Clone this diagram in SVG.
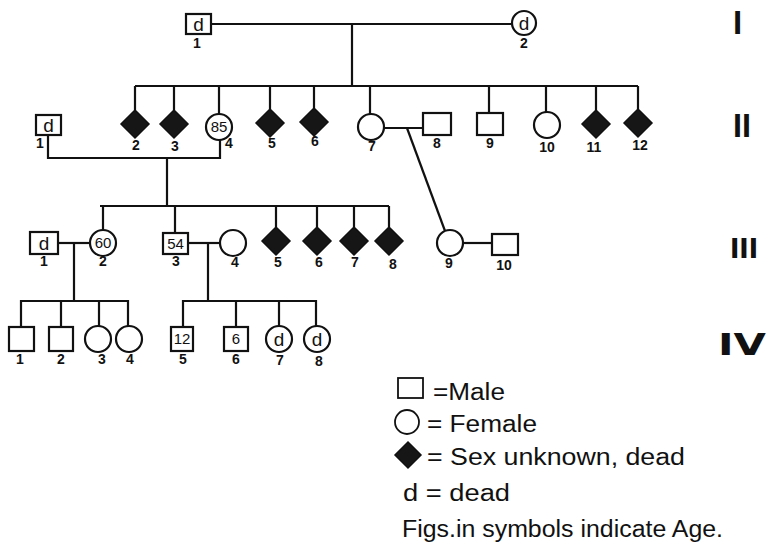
<svg xmlns="http://www.w3.org/2000/svg" width="770" height="546" viewBox="0 0 770 546">
<style>
.sym{fill:#fff;stroke:#111;stroke-width:2.2}
.dia{fill:#161616;stroke:#111;stroke-width:1.5}
.ln{fill:none;stroke:#111;stroke-width:2.2}
.num{font-family:"Liberation Sans",Arial,sans-serif;font-weight:bold;font-size:14px;fill:#111;text-anchor:middle}
.in{font-family:"Liberation Sans",Arial,sans-serif;font-size:19px;fill:#111;text-anchor:middle}
.age{font-family:"Liberation Sans",Arial,sans-serif;font-size:15px;fill:#111;text-anchor:middle}
.gen{font-family:"Liberation Sans",Arial,sans-serif;font-weight:bold;fill:#111}
.leg{font-family:"Liberation Sans",Arial,sans-serif;font-size:23px;fill:#111}
</style>
<rect width="770" height="546" fill="#fff"/>
<g id="connectors">
<path class="ln" d="M212 24H511"/>
<path class="ln" d="M352 24V86"/>
<path class="ln" d="M135 86H638"/>
<path class="ln" d="M135 86V110M174 86V110M219 86V114M270 86V109M314 86V108M370 86V114M489 86V113M546 86V112M596 86V110M638 86V109"/>
<path class="ln" d="M48 135V158H220V140"/>
<path class="ln" d="M167 158V206"/>
<path class="ln" d="M384 128H423"/>
<path class="ln" d="M407 128L445 231"/>
<path class="ln" d="M100 206H389"/>
<path class="ln" d="M103 206V230M175 206V233M276 206V227M317 206V227M354 206V227M389 206V227"/>
<path class="ln" d="M58 243H90"/>
<path class="ln" d="M188 243H220"/>
<path class="ln" d="M463 243H492"/>
<path class="ln" d="M74 243V301M21 327V301H128V326M61 301V327M99 301V326"/>
<path class="ln" d="M208 243V301M183 327V301H316V326M236 301V327M279 301V326"/>
</g>
<g id="I-1"><rect class="sym" x="186" y="14" width="25" height="20"/><text class="in" x="198.5" y="31">d</text><text class="num" x="197" y="48">1</text></g>
<g id="I-2"><circle class="sym" cx="524" cy="23" r="12"/><text class="in" x="524" y="30">d</text><text class="num" x="524" y="48">2</text></g>
<g id="II-1"><rect class="sym" x="36" y="115" width="25" height="20"/><text class="in" x="48.5" y="132">d</text><text class="num" x="40" y="148">1</text></g>
<g id="II-2"><path class="dia" d="M135 110L149 124L135 138L121 124Z"/><text class="num" x="136" y="150">2</text></g>
<g id="II-3"><path class="dia" d="M174 110L188 124L174 138L160 124Z"/><text class="num" x="175" y="151">3</text></g>
<g id="II-4"><circle class="sym" cx="219" cy="127" r="13"/><text class="age" x="219" y="132">85</text><text class="num" x="229" y="148">4</text></g>
<g id="II-5"><path class="dia" d="M270 109L284 123L270 137L256 123Z"/><text class="num" x="272" y="148">5</text></g>
<g id="II-6"><path class="dia" d="M314 108L328 122L314 136L300 122Z"/><text class="num" x="315" y="146">6</text></g>
<g id="II-7"><circle class="sym" cx="371" cy="127" r="13"/><text class="num" x="372" y="151">7</text></g>
<g id="II-8"><rect class="sym" x="423" y="113" width="28" height="22"/><text class="num" x="437" y="148">8</text></g>
<g id="II-9"><rect class="sym" x="477" y="113" width="26" height="22"/><text class="num" x="490" y="148">9</text></g>
<g id="II-10"><circle class="sym" cx="547" cy="125" r="13"/><text class="num" x="547" y="152">10</text></g>
<g id="II-11"><path class="dia" d="M596 110L610 124L596 138L582 124Z"/><text class="num" x="594" y="152">11</text></g>
<g id="II-12"><path class="dia" d="M638 109L652 123L638 137L624 123Z"/><text class="num" x="640" y="150">12</text></g>
<g id="III-1"><rect class="sym" x="30" y="232" width="28" height="22"/><text class="in" x="44" y="250">d</text><text class="num" x="44" y="266">1</text></g>
<g id="III-2"><circle class="sym" cx="103" cy="243" r="13"/><text class="age" x="103" y="248">60</text><text class="num" x="103" y="266">2</text></g>
<g id="III-3"><rect class="sym" x="163" y="233" width="25" height="21"/><text class="age" x="175.5" y="249">54</text><text class="num" x="176" y="266">3</text></g>
<g id="III-4"><circle class="sym" cx="233" cy="243" r="13"/><text class="num" x="235" y="267">4</text></g>
<g id="III-5"><path class="dia" d="M276 227L290 241L276 255L262 241Z"/><text class="num" x="278" y="267">5</text></g>
<g id="III-6"><path class="dia" d="M317 227L331 241L317 255L303 241Z"/><text class="num" x="319" y="267">6</text></g>
<g id="III-7"><path class="dia" d="M354 227L368 241L354 255L340 241Z"/><text class="num" x="355" y="267">7</text></g>
<g id="III-8"><path class="dia" d="M389 227L403 241L389 255L375 241Z"/><text class="num" x="393" y="269">8</text></g>
<g id="III-9"><circle class="sym" cx="450" cy="243" r="13"/><text class="num" x="449" y="268">9</text></g>
<g id="III-10"><rect class="sym" x="492" y="234" width="26" height="21"/><text class="num" x="504" y="270">10</text></g>
<g id="IV-1"><rect class="sym" x="9" y="327" width="25" height="24"/><text class="num" x="20" y="364">1</text></g>
<g id="IV-2"><rect class="sym" x="49" y="327" width="24" height="24"/><text class="num" x="61" y="364">2</text></g>
<g id="IV-3"><circle class="sym" cx="98" cy="339" r="13"/><text class="num" x="102" y="364">3</text></g>
<g id="IV-4"><circle class="sym" cx="129" cy="339" r="13"/><text class="num" x="130" y="364">4</text></g>
<g id="IV-5"><rect class="sym" x="171" y="327" width="22" height="24"/><text class="age" x="182" y="344">12</text><text class="num" x="183" y="364">5</text></g>
<g id="IV-6"><rect class="sym" x="224" y="327" width="24" height="24"/><text class="age" x="236" y="344">6</text><text class="num" x="236" y="364">6</text></g>
<g id="IV-7"><circle class="sym" cx="279" cy="339" r="13"/><text class="in" x="279" y="346">d</text><text class="num" x="280" y="365">7</text></g>
<g id="IV-8"><circle class="sym" cx="317" cy="339" r="13"/><text class="in" x="317" y="346">d</text><text class="num" x="319" y="366">8</text></g>
<g id="generations">
<text class="gen" x="733" y="34" font-size="33">I</text>
<text class="gen" x="733" y="137" font-size="33" textLength="18" lengthAdjust="spacingAndGlyphs">II</text>
<text class="gen" x="730" y="258" font-size="29" textLength="28" lengthAdjust="spacingAndGlyphs">III</text>
<text x="718" y="355" font-family="'DejaVu Sans',sans-serif" font-weight="bold" font-size="31" fill="#111" textLength="48" lengthAdjust="spacingAndGlyphs">IV</text>
</g>
<g id="legend">
<rect x="398" y="378" width="25" height="20" fill="#fff" stroke="#111" stroke-width="1.8"/>
<text class="leg" x="433" y="400" textLength="72" lengthAdjust="spacingAndGlyphs">=Male</text>
<circle cx="407" cy="422" r="12" fill="#fff" stroke="#111" stroke-width="1.8"/>
<text class="leg" x="427" y="432" textLength="110" lengthAdjust="spacingAndGlyphs">= Female</text>
<path class="dia" d="M408 442L421 455L408 468L395 455Z"/>
<text class="leg" x="427" y="465" textLength="258" lengthAdjust="spacingAndGlyphs">= Sex unknown, dead</text>
<text class="leg" x="403" y="501" textLength="107" lengthAdjust="spacingAndGlyphs">d = dead</text>
<text class="leg" x="402" y="537" textLength="321" lengthAdjust="spacingAndGlyphs">Figs.in symbols indicate Age.</text>
</g>
</svg>
